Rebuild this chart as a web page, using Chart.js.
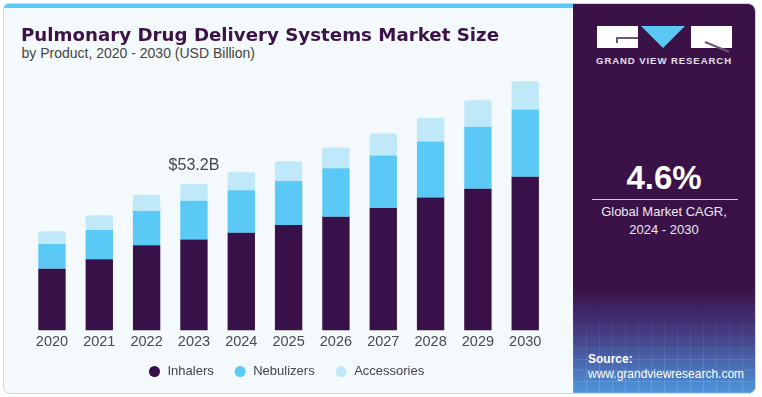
<!DOCTYPE html>
<html><head><meta charset="utf-8">
<script src="https://cdn.jsdelivr.net/npm/chart.js@4"></script>
<style>
body{margin:0;width:762px;height:397px;background:#ffffff;position:relative;overflow:hidden;font-family:"Liberation Sans",Arial,sans-serif}
.abs{position:absolute}
#frame{left:3px;top:3px;width:753px;height:391px;box-sizing:border-box;border:1px solid #d3d6da;border-radius:7px;background:#f4f9fc}
#strip{left:4px;top:4px;width:569px;height:4px;background:#5bc8f5;border-top-left-radius:6px}
#panel{left:573px;top:4px;width:182px;height:389px;background:#3a1248;border-radius:0 7px 7px 0;overflow:hidden}
#glow{left:0;bottom:0;width:182px;height:105px;
background:linear-gradient(to bottom,rgba(58,18,72,0) 0%,rgba(72,70,150,0.7) 40%,rgba(78,150,220,1) 100%);}
#grid{left:0;bottom:0;width:182px;height:95px;
background:
repeating-linear-gradient(90deg,rgba(255,255,255,0.14) 0 1px,transparent 1px 13px),
repeating-linear-gradient(0deg,rgba(255,255,255,0.14) 0 1px,transparent 1px 11px);
-webkit-mask-image:linear-gradient(to bottom,transparent 0%,#000 100%);mask-image:linear-gradient(to bottom,transparent 0%,#000 100%)}
#title{left:21px;top:26.5px;font-family:"DejaVu Sans",sans-serif;font-weight:bold;font-size:17.6px;line-height:1;color:#3a1248;white-space:nowrap;transform-origin:left top}
#sub{left:21.5px;top:46px;font-size:14px;line-height:1;color:#444;white-space:nowrap}
#wrap{left:0;top:60px;width:573px;height:336px}
.pt{color:#fff;text-align:center;white-space:nowrap}
</style></head><body>
<div id="frame" class="abs"></div>
<div id="strip" class="abs"></div>
<div id="panel" class="abs"><div id="glow" class="abs"></div><div id="grid" class="abs"></div></div>
<!-- logo -->
<div class="abs" style="left:597px;top:26px;width:41px;height:22px;background:#fff"></div>
<div class="abs" style="left:616px;top:37px;width:22px;height:1.5px;background:#6a5a78"></div>
<div class="abs" style="left:616px;top:37px;width:1.5px;height:6px;background:#6a5a78"></div>
<div class="abs" style="left:641px;top:26px;width:0;height:0;border-left:22px solid transparent;border-right:22px solid transparent;border-top:22px solid #5bc8f5"></div>
<div class="abs" style="left:691px;top:26px;width:41px;height:22px;background:#fff"></div>
<div class="abs" style="left:705px;top:41px;width:26px;height:1.5px;background:#6a5a78;transform:rotate(22deg);transform-origin:left center"></div>
<div class="abs pt" style="left:573px;top:55px;width:182px;font-size:9.6px;font-weight:bold;letter-spacing:0.9px;line-height:12px;color:#e4e0ea">GRAND VIEW RESEARCH</div>
<div class="abs pt" style="left:573px;top:160px;width:182px;font-size:33px;font-weight:bold;line-height:36px">4.6%</div>
<div class="abs" style="left:592px;top:199px;width:146px;height:1px;background:#cfc8d8"></div>
<div class="abs pt" style="left:573px;top:203px;width:182px;font-size:13px;line-height:17.6px;color:#ece9f0">Global Market CAGR,<br>2024 - 2030</div>
<div class="abs" style="left:588px;top:352px;font-size:12px;font-weight:bold;color:#fff;line-height:15px">Source:</div>
<div class="abs" style="left:588px;top:367px;font-size:12px;color:#fff;line-height:15px">www.grandviewresearch.com</div>
<div id="title" class="abs">Pulmonary Drug Delivery Systems Market Size</div>
<div id="sub" class="abs">by Product, 2020 - 2030 (USD Billion)</div>
<div id="wrap" class="abs"><canvas id="c"></canvas></div>
<script>
const years = ["2020","2021","2022","2023","2024","2025","2026","2027","2028","2029","2030"];
const inhalers    = [22.4, 25.8, 30.9, 33.0, 35.4, 38.2, 41.2, 44.4, 48.2, 51.4, 55.7];
const nebulizers  = [ 9.0, 10.6, 12.4, 14.0, 15.4, 16.0, 17.6, 19.0, 20.3, 22.4, 24.4];
const accessories = [ 4.6,  5.4,  5.9,  6.2,  6.5,  7.1,  7.5,  8.0,  8.6,  9.6, 10.2];
const calloutIndex = 3;
const calloutText = "$53.2B";

// fit title width to the reference
(function(){
  const t = document.getElementById('title');
  const w = t.getBoundingClientRect().width;
  t.style.transform = 'scaleX(' + (478 / w) + ')';
})();

const callout = {
  id: 'callout',
  afterDatasetsDraw(chart) {
    const {ctx, scales: {x, y}} = chart;
    const total = inhalers[calloutIndex] + nebulizers[calloutIndex] + accessories[calloutIndex];
    ctx.save();
    ctx.font = '16px "Liberation Sans", Arial, sans-serif';
    ctx.fillStyle = '#444';
    ctx.textAlign = 'center';
    ctx.textBaseline = 'middle';
    ctx.fillText(calloutText, x.getPixelForValue(calloutIndex), y.getPixelForValue(total) - 18.5);
    ctx.restore();
  }
};

// pull the legend row a little closer to the axis labels
const legendShift = {
  id: 'legendShift',
  afterLayout(chart) {
    const l = chart.legend;
    if (l) { l.top -= 8; l.bottom -= 8; l.left -= 2.5; l.right -= 2.5; }
  }
};

const ds = (label, data, color, top) => ({
  label, data, backgroundColor: color, borderWidth: 0,
  borderRadius: top ? {topLeft: 2, topRight: 2} : 0, borderSkipped: false,
  barPercentage: 0.578, categoryPercentage: 1
});

new Chart(document.getElementById('c'), {
  type: 'bar',
  data: {
    labels: years,
    datasets: [
      ds('Inhalers', inhalers, '#371147', false),
      ds('Nebulizers', nebulizers, '#5bc9f5', false),
      ds('Accessories', accessories, '#bfe9f9', true)
    ]
  },
  options: {
    responsive: true, maintainAspectRatio: false, animation: false,
    layout: {padding: {top: 11, left: 28.3, right: 24.1, bottom: 0}},
    scales: {
      x: {stacked: true, grid: {display: false, drawTicks: false}, border: {display: false},
          ticks: {color: '#4a4a4a', font: {size: 14.5, family: '"Liberation Sans", Arial, sans-serif'}, padding: 2.5}},
      y: {stacked: true, display: false, min: 0, max: 94}
    },
    plugins: {
      legend: {position: 'bottom',
        labels: {usePointStyle: true, pointStyle: 'circle', boxWidth: 13, boxHeight: 7.8, padding: 20,
          color: '#444', font: {size: 13, family: '"Liberation Sans", Arial, sans-serif'}}},
      tooltip: {enabled: false}
    }
  },
  plugins: [callout, legendShift]
});
</script>
</body></html>
